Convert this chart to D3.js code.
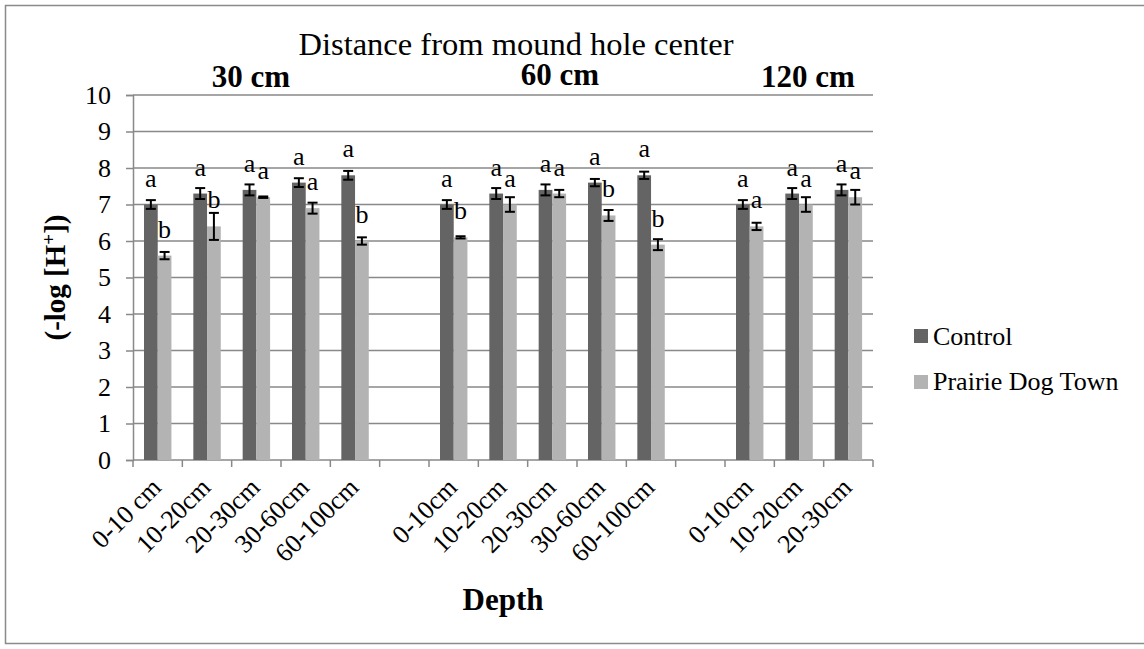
<!DOCTYPE html>
<html><head><meta charset="utf-8">
<script src="https://cdn.jsdelivr.net/npm/d3@7"></script>
<style>
html,body{margin:0;padding:0;background:#fff;}
svg text{font-family:'Liberation Serif','Times New Roman',Times,'Tinos','DejaVu Serif',serif;}
</style></head>
<body><svg id="chart" width="1144" height="649"></svg>
<script>
// ---- data ----
const categories = ["0-10 cm","10-20cm","20-30cm","30-60cm","60-100cm","",
                    "0-10cm","10-20cm","20-30cm","30-60cm","60-100cm","",
                    "0-10cm","10-20cm","20-30cm"];
const controlValues = [7.0,7.3,7.4,7.6,7.8,null, 7.0,7.3,7.4,7.6,7.8,null, 7.0,7.3,7.4];
const controlErrors = [0.12,0.15,0.15,0.12,0.12,null, 0.12,0.15,0.15,0.1,0.1,null, 0.12,0.15,0.15];
const prairieValues = [5.6,6.4,7.2,6.9,6.0,null, 6.1,7.0,7.3,6.7,5.9,null, 6.4,7.0,7.2];
const prairieErrors = [0.1,0.37,0.02,0.15,0.1,null, 0.03,0.2,0.1,0.15,0.15,null, 0.1,0.2,0.2];
const controlLetters = ["a","a","a","a","a","", "a","a","a","a","a","", "a","a","a"];
const prairieLetters = ["b","b","a","a","b","", "b","a","a","b","b","", "a","a","a"];
const groupLabels = ["30 cm","60 cm","120 cm"];
const seriesNames = ["Control","Prairie Dog Town"];
const yTicks = [0,1,2,3,4,5,6,7,8,9,10];

// ---- layout ----
const FONT = "'Liberation Serif','Times New Roman',Times,Tinos,'DejaVu Serif',serif";
const svg = d3.select("#chart").attr("font-family",FONT);
const L = 133, R = 873, T = 95, B = 460;
const colors = ["#646464","#b3b3b3"];
const gridColor = "#898989";

svg.append("rect").attr("x",5.5).attr("y",5.5).attr("width",1150).attr("height",638)
  .attr("fill","none").attr("stroke","#8a8a8a").attr("stroke-width",1.5);

const x = d3.scaleBand().domain(d3.range(categories.length)).range([L,R]).padding(0);
const y = d3.scaleLinear().domain([0,10]).range([B,T]);
const bw = x.bandwidth();
const barW = bw*0.278;
const off = bw*0.223;

// gridlines
svg.append("g").selectAll("line").data(yTicks.filter(d=>d>0)).join("line")
  .attr("x1",L).attr("x2",R).attr("y1",d=>y(d)).attr("y2",d=>y(d))
  .attr("stroke",gridColor).attr("stroke-width",1.5);

// y axis
const yAxis = svg.append("g").attr("transform",`translate(${L},0)`)
  .call(d3.axisLeft(y).tickValues(yTicks).tickSize(7).tickPadding(15).tickFormat(d3.format("d")))
  .attr("font-family",FONT);
yAxis.select(".domain").attr("stroke",gridColor).attr("stroke-width",1.5);
yAxis.selectAll(".tick line").attr("stroke",gridColor).attr("stroke-width",1.5);
yAxis.selectAll("text").attr("font-size",26).attr("fill","#000");

// x axis
const xAxisG = svg.append("g");
xAxisG.append("line").attr("x1",L).attr("x2",R).attr("y1",B).attr("y2",B)
  .attr("stroke",gridColor).attr("stroke-width",1.5);
const boundaries = d3.range(categories.length+1).map(i => i<categories.length ? x(i) : x(categories.length-1)+bw);
xAxisG.selectAll("line.tk").data(boundaries).join("line").attr("class","tk")
  .attr("x1",d=>d).attr("x2",d=>d).attr("y1",B).attr("y2",B+7)
  .attr("stroke",gridColor).attr("stroke-width",1.5);
xAxisG.selectAll("text").data(categories.map((c,i)=>({c,i})).filter(d=>d.c)).join("text")
  .attr("transform",d=>`translate(${x(d.i)+bw/2+5},${B+29}) rotate(-45)`)
  .attr("text-anchor","end")
  .attr("font-size",26).text(d=>d.c);

// bars
const series = [
  {vals:controlValues, errs:controlErrors, letters:controlLetters, dx:off, color:colors[0]},
  {vals:prairieValues, errs:prairieErrors, letters:prairieLetters, dx:off+barW, color:colors[1]}
];
series.forEach(s=>{
  const data = s.vals.map((v,i)=>({v,i,e:s.errs[i],l:s.letters[i]})).filter(d=>d.v!=null);
  const g = svg.append("g");
  g.selectAll("rect").data(data).join("rect")
    .attr("x",d=>x(d.i)+s.dx).attr("width",barW)
    .attr("y",d=>y(d.v)).attr("height",d=>y(0)-y(d.v)).attr("fill",s.color);
  const cx = d=>x(d.i)+s.dx+barW/2;
  g.selectAll("line.eb").data(data).join("line").attr("class","eb")
    .attr("x1",cx).attr("x2",cx).attr("y1",d=>y(d.v+d.e)).attr("y2",d=>y(d.v-d.e))
    .attr("stroke","#000").attr("stroke-width",2);
  ["t","b"].forEach(sg=>{
    const yy = d=>y(sg=="t"?d.v+d.e:d.v-d.e);
    g.selectAll("line.cap"+sg).data(data).join("line").attr("class","cap"+sg)
      .attr("x1",d=>cx(d)-5).attr("x2",d=>cx(d)+5)
      .attr("y1",yy).attr("y2",yy)
      .attr("stroke","#000").attr("stroke-width",2);
  });
  g.selectAll("text").data(data).join("text")
    .attr("x",cx).attr("y",d=>y(d.v)-18).attr("text-anchor","middle")
    .attr("font-size",26).text(d=>d.l);
});

// titles
svg.append("text").attr("x",516).attr("y",55).attr("text-anchor","middle")
  .attr("font-size",32.5).text("Distance from mound hole center");
const groupY = [87,85,87];
const groupX = [251,560,808];
groupLabels.forEach((g,i)=>{
  svg.append("text").attr("x",groupX[i]).attr("y",groupY[i]).attr("text-anchor","middle")
    .attr("font-size",31).attr("font-weight","bold").text(g);
});
svg.append("text").attr("x",(L+R)/2).attr("y",610).attr("text-anchor","middle")
  .attr("font-size",31).attr("font-weight","bold").text("Depth");
const yt = svg.append("text").attr("transform",`translate(65,${(T+B)/2}) rotate(-90)`)
  .attr("text-anchor","middle").attr("font-size",29).attr("font-weight","bold");
yt.append("tspan").text("(-log [H");
yt.append("tspan").attr("dy",-10).attr("font-size",19).text("+");
yt.append("tspan").attr("dy",10).text("])");

// legend
const lg = svg.append("g");
seriesNames.forEach((n,i)=>{
  lg.append("rect").attr("x",914).attr("y",329+i*46).attr("width",14).attr("height",14).attr("fill",colors[i]);
  lg.append("text").attr("x",933).attr("y",345+i*45).attr("font-size",26).text(n);
});
</script></body></html>
